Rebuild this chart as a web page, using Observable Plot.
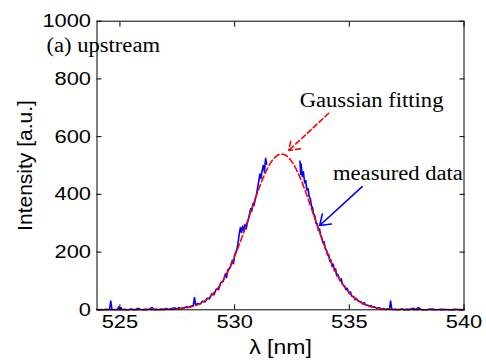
<!DOCTYPE html>
<html><head><meta charset="utf-8">
<script src="https://cdn.jsdelivr.net/npm/d3@7"></script>
<script src="https://cdn.jsdelivr.net/npm/@observablehq/plot@0.6"></script>
<style>body{margin:0;background:#fff;}</style>
</head><body><div id="chart"></div>
<script>
// measured spectrum (blue), gap near the peak marked with null
const wavelength = [524.0,524.1,524.2,524.3,524.4,524.5,524.55,524.6,524.65,524.7,524.8,524.9,524.95,525.0,525.05,525.1,525.2,525.3,525.4,525.5,525.6,525.7,525.8,525.9,526.0,526.1,526.2,526.3,526.4,526.5,526.6,526.7,526.8,526.9,527.0,527.1,527.2,527.3,527.4,527.5,527.57,527.6,527.7,527.8,527.9,528.0,528.1,528.2,528.25,528.3,528.4,528.5,528.6,528.7,528.8,528.9,529.0,529.1,529.2,529.3,529.4,529.5,529.6,529.65,529.7,529.8,529.9,529.95,530.0,530.1,530.15,530.2,530.25,530.3,530.35,530.4,530.45,530.5,530.55,530.6,530.65,530.7,530.75,530.8,530.85,530.9,530.95,531.0,531.05,531.1,531.15,531.2,531.25,531.3,531.35,531.4,
  532.0,
  532.85,532.88,532.9,532.95,533.0,533.05,533.1,533.15,533.2,533.25,533.3,533.35,533.4,533.45,533.5,533.55,533.6,533.65,533.7,533.75,533.8,533.85,533.9,533.95,534.0,534.05,534.1,534.15,534.2,534.25,534.3,534.35,534.4,534.45,534.5,534.6,534.65,534.7,534.8,534.85,534.9,535.0,535.05,535.1,535.2,535.25,535.3,535.4,535.5,535.6,535.65,535.7,535.8,535.9,535.95,536.0,536.1,536.2,536.3,536.4,536.5,536.6,536.7,536.75,536.8,536.85,536.9,537.0,537.1,537.2,537.3,537.4,537.5,537.6,537.7,537.8,537.9,538.0,538.1,538.2,538.4,538.6,538.8,539.0,539.2,539.4,539.6,539.8,540.0];
const intensity = [2,0,1,0,2,1,3,30,2,0,1,2,10,1,7,0,2,0,1,3,0,2,5,1,0,2,1,3,8,1,2,0,3,1,4,2,3,5,6,3,8,4,6,7,10,9,12,15,42,17,22,20,30,27,40,38,55,52,72,70,95,98,125,112,138,145,172,160,190,210,232,262,285,268,290,272,295,280,300,312,332,350,342,368,362,385,398,422,445,470,455,482,500,478,525,505,
  null,
  515,470,505,462,478,440,448,415,420,392,385,360,352,330,325,300,298,275,280,258,250,232,236,212,208,190,192,168,172,150,158,135,142,118,122,100,108,88,82,70,75,56,62,48,45,35,40,30,28,20,25,17,16,12,15,9,10,5,7,3,4,1,3,2,30,3,1,2,0,1,3,0,2,1,3,5,1,8,2,0,1,3,0,2,1,0,2,1,0];

// Gaussian fit (red dashed)
const fitWavelength = [524,527.05,527.55,528.05,528.30,528.55,528.80,529.05,529.30,529.55,529.80,530.05,530.30,530.55,530.80,531.05,531.30,531.55,531.80,532.05,532.30,532.55,532.80,533.05,533.30,533.55,533.80,534.05,534.30,534.55,534.80,535.05,535.30,535.55,535.80,536.05,536.55,537.05,540];
const fitIntensity = [0,0.9,3.1,9.1,14.9,23.7,36.5,54.4,78.5,109.7,148.4,194.6,247.2,304.2,362.5,418.4,467.8,506.6,531.5,540,531.5,506.6,467.8,418.4,362.5,304.2,247.2,194.6,148.4,109.7,78.5,54.4,36.5,23.7,14.9,9.1,3.1,0.9,0];

const xTicks = [525,530,535,540];
const yTicks = [0,200,400,600,800,1000];
const xLabel = "λ [nm]";
const yLabel = "Intensity [a.u.]";

const annotationText = ["(a) upstream","Gaussian fitting","measured data"];
const annotationX = [524.27, 535.97, 537.12];
const annotationY = [915, 725, 472];

const fitArrowFrom = [534.10, 681];
const fitArrowTo = [532.36, 552];
const dataArrowFrom = [535.56, 427];
const dataArrowTo = [533.71, 292];

const measured = wavelength.map((w,i)=>({w, v: intensity[i]}));
const fit = fitWavelength.map((w,i)=>({w, v: fitIntensity[i]}));
const notes = annotationText.map((t,i)=>({t, x: annotationX[i], y: annotationY[i]}));

const svg = Plot.plot({
  width: 486, height: 360,
  marginLeft: 96.5, marginRight: 22.5, marginTop: 20.7, marginBottom: 50.7,
  style: {fontFamily: "'Liberation Sans', Arial, sans-serif", fontSize: "19px", background: "white", color: "black"},
  x: {domain: [524, 540]},
  y: {domain: [0, 1000]},
  marks: [
    Plot.line(measured, {x: "w", y: "v", stroke: "#0000ff", strokeWidth: 1.6}),
    Plot.line(fit, {x: "w", y: "v", stroke: "#ff0000", strokeWidth: 1.6, strokeDasharray: "6,3", curve: "monotone-x"}),
    Plot.arrow([0], {x1: fitArrowFrom[0], y1: fitArrowFrom[1], x2: fitArrowTo[0], y2: fitArrowTo[1], stroke: "#ff0000", strokeWidth: 1.6, strokeDasharray: "5,3", headLength: 11, headAngle: 70}),
    Plot.arrow([0], {x1: dataArrowFrom[0], y1: dataArrowFrom[1], x2: dataArrowTo[0], y2: dataArrowTo[1], stroke: "#0000ff", strokeWidth: 1.6, headLength: 11, headAngle: 70}),
    Plot.text(notes, {x: "x", y: "y", text: "t", textAnchor: (d,i)=> i===0 ? "start" : "middle", fontFamily: "'Liberation Serif', 'Times New Roman', serif", fontSize: 20, fill: "black"}),
    Plot.frame({stroke: "black", strokeWidth: 1}),
    Plot.axisX({anchor: "bottom", ticks: xTicks, tickSize: -5, tickPadding: 10, tickFormat: d => String(d), label: xLabel, labelAnchor: "center", labelArrow: "none", labelOffset: 44}),
    Plot.axisX({anchor: "top", ticks: xTicks, tickSize: -5, tickFormat: () => "", label: null}),
    Plot.axisY({anchor: "left", ticks: yTicks, tickSize: -5, tickPadding: 11, tickFormat: d => String(d), label: yLabel, labelAnchor: "center", labelArrow: "none", labelOffset: 80}),
    Plot.axisY({anchor: "right", ticks: yTicks, tickSize: -5, tickFormat: () => "", label: null})
  ]
});
document.getElementById("chart").appendChild(svg);

// horizontal stretch of text to match the reference's proportions
function stretch(sel, k) {
  d3.select(svg).selectAll(sel).each(function() {
    const w = this.getComputedTextLength();
    if (w > 0) d3.select(this).attr("textLength", w * k).attr("lengthAdjust", "spacingAndGlyphs");
  });
}
d3.select(svg).selectAll('g[aria-label="y-axis label"] text').attr("font-size", 21);
d3.select(svg).selectAll('g[aria-label="x-axis label"] text').attr("font-size", 20);
stretch('g[aria-label="x-axis tick label"] text', 1.15);
stretch('g[aria-label="y-axis tick label"] text', 1.15);
stretch('g[aria-label="x-axis label"] text', 1.15);
stretch('g[aria-label="text"] text', 1.13);
</script>
</body></html>
